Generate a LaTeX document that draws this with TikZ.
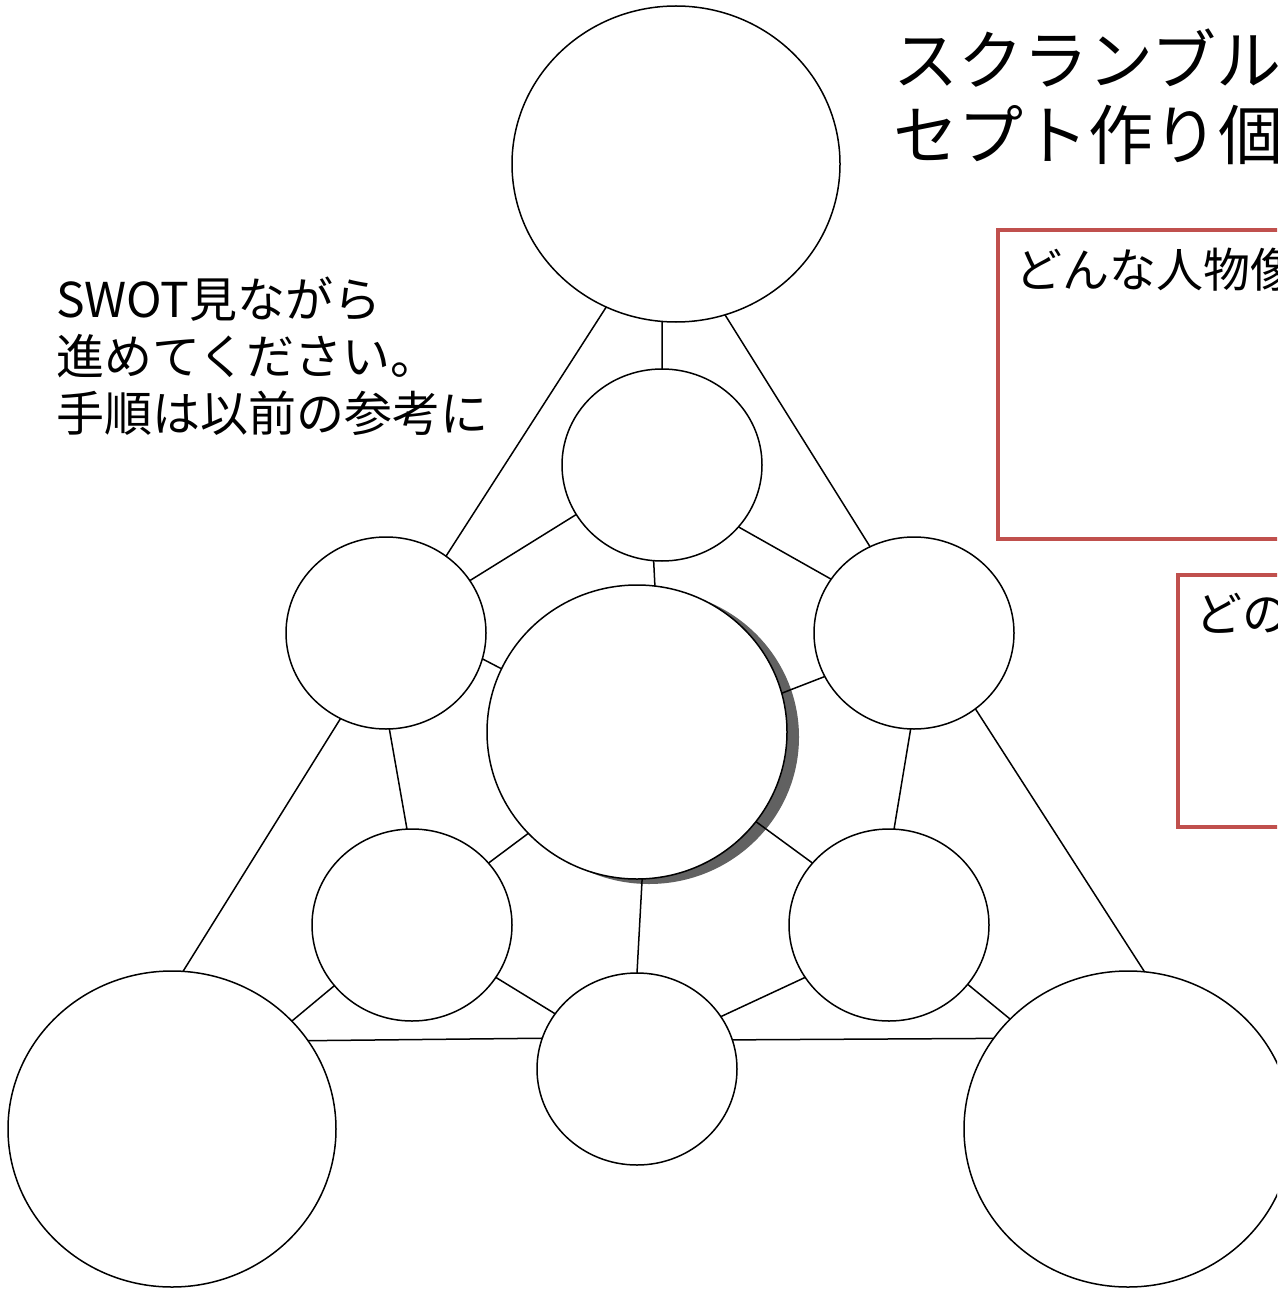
\documentclass[tikz,border=0pt]{standalone}
\usepackage{fontspec}
\setmainfont{Noto Sans CJK JP}
\usetikzlibrary{shapes.geometric}
\definecolor{boxred}{HTML}{C0504D}
\begin{document}
\begin{tikzpicture}[x=1pt,y=-1pt,
  bub/.style={draw, ellipse, inner sep=0pt, outer sep=0pt, line width=1.5pt, fill=white},
  bigbub/.style={bub, minimum width=328pt, minimum height=316pt},
  midbub/.style={bub, minimum width=200pt, minimum height=192pt},
  conn/.style={line width=1.5pt},
  redbox/.style={draw=boxred, line width=4pt},
  lbl/.style={inner sep=0pt, anchor=west, align=left}]
\useasboundingbox (0,0) rectangle (1277,1289);
\clip (0,0) rectangle (1277,1289);
\fill[white] (0,0) rectangle (1277,1289);

% shadow of the centre circle
\fill[black!62] (649,737) ellipse [x radius=150pt, y radius=147pt];

\node[bigbub] (T)  at (676,164)  {};
\node[midbub] (UM) at (662,465)  {};
\node[midbub] (LM) at (386,633)  {};
\node[midbub] (RM) at (914,633)  {};
\node[bub, minimum width=300pt, minimum height=294pt] (C) at (637,732) {};
\node[midbub] (LL) at (412,925)  {};
\node[midbub] (LR) at (889,925)  {};
\node[midbub] (BM) at (637,1069) {};
\node[bigbub] (BL) at (172,1129) {};
\node[bigbub] (BR) at (1128,1129) {};

\draw[conn] (T.265) -- (UM.90);
\draw[conn] (T.244) -- (LM.52);
\draw[conn] (T.288) -- (RM.117);
\draw[conn] (UM.210) -- (LM.32);
\draw[conn] (UM.321) -- (RM.147);
\draw[conn] (UM.265) -- (C.83);
\draw[conn] (LM.345) -- (C.155);
\draw[conn] (RM.206) -- (C.15);
\draw[conn] (LM.272) -- (LL.93);
\draw[conn] (RM.268) -- (LR.87);
\draw[conn] (C.223) -- (LL.39);
\draw[conn] (C.323) -- (LR.141);
\draw[conn] (C.272) -- (BM.90);
\draw[conn] (LM.242) -- (BL.86);
\draw[conn] (RM.309) -- (BR.84);
\draw[conn] (LL.218) -- (BL.42);
\draw[conn] (LL.328) -- (BM.146);
\draw[conn] (LR.212) -- (BM.32);
\draw[conn] (LR.323) -- (BR.137);
\draw[conn] (BL.33.7) -- (BM.162.5);
\draw[conn] (BM.17.5) -- (BR.146.3);

% red boxes
\draw[redbox] (998,230) rectangle (1420,539);
\draw[redbox] (1178,575) rectangle (1420,827);

% texts
\node[lbl, font=\fontsize{65pt}{75pt}\selectfont] (title) at (893,97) {スクランブル\\セプト作り個};
\node[lbl, font=\fontsize{48pt}{57pt}\selectfont] (note) at (56,356) {SWOT見ながら\\進めてください。\\手順は以前の参考に};
\node[lbl, font=\fontsize{47pt}{56pt}\selectfont] (q1) at (1015,270) {どんな人物像};
\node[lbl, font=\fontsize{47pt}{56pt}\selectfont] (q2) at (1195,613) {どの};
\end{tikzpicture}
\end{document}
